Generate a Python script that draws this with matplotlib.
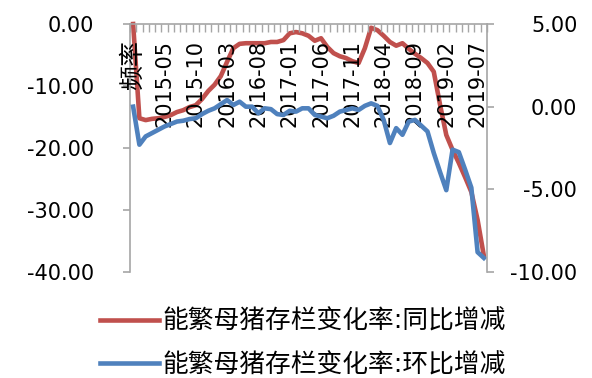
import matplotlib
matplotlib.use('Agg')
import matplotlib.pyplot as plt
from matplotlib.ticker import FixedLocator, FuncFormatter

plt.rcParams['font.family'] = ['DejaVu Sans', 'Noto Sans CJK SC']

# 类别：表头"频率"之后为2015-01至2019-08逐月
months = ['频率'] + ['%d-%02d' % (y, m) for y in range(2015, 2020) for m in range(1, 13)][:56]
tick_step = 5

# 能繁母猪存栏变化率（%）
yoy = [0, -15.2, -15.5, -15.3, -15.2, -15.0, -14.7, -14.2, -13.9, -13.4,
       -13.1, -12.1, -10.8, -9.8, -8.4, -6.1, -3.9, -3.2, -3.1, -3.1,
       -3.1, -3.1, -2.9, -2.9, -2.6, -1.5, -1.3, -1.5, -1.9, -2.7,
       -2.3, -3.7, -4.7, -5.2, -5.5, -6.0, -6.3, -3.9, -0.6, -1.0,
       -1.9, -2.9, -3.5, -3.1, -4.0, -4.8, -5.5, -6.3, -7.7, -13.0,
       -17.9, -20.3, -22.4, -24.7, -27.1, -31.6, -37.4]
mom = [0, -2.3, -1.8, -1.6, -1.4, -1.2, -1.05, -0.9, -0.85, -0.75,
       -0.7, -0.45, -0.25, -0.1, 0.15, 0.4, 0.1, 0.3, 0.0, 0.0,
       -0.4, -0.1, -0.15, -0.45, -0.5, -0.25, -0.3, -0.1, -0.1, -0.5,
       -0.6, -0.7, -0.55, -0.3, -0.2, -0.1, -0.2, 0.05, 0.2, 0.05,
       -0.8, -2.2, -1.3, -1.7, -0.9, -0.8, -1.15, -1.5, -2.8, -3.95,
       -5.05, -2.6, -2.75, -3.8, -4.9, -8.8, -9.15]

red = '#C0504D'
blue = '#4F81BD'
grey = '#A6A6A6'

fig = plt.figure(figsize=(5.92, 3.78), dpi=100)
ax = fig.add_axes([130/592, 1-272/378, 357/592, 248/378])
ax2 = ax.twinx()

x = list(range(len(months)))
l1, = ax.plot(x, yoy, color=red, lw=3.3, clip_on=False, solid_joinstyle='round',
              label='能繁母猪存栏变化率:同比增减')
l2, = ax2.plot(x, mom, color=blue, lw=3.3, clip_on=False, solid_joinstyle='round',
               label='能繁母猪存栏变化率:环比增减')

ax.set_xlim(-0.5, len(months)-0.5)
ax.set_ylim(-40, 0)
ax2.set_ylim(-10, 5)
ax.set_yticks([0, -10, -20, -30, -40])
ax2.set_yticks([5, 0, -5, -10])
fmt = FuncFormatter(lambda v, p: '%.2f' % v)
ax.yaxis.set_major_formatter(fmt)
ax2.yaxis.set_major_formatter(fmt)

for s in ['right', 'bottom']:
    ax.spines[s].set_visible(False)
for s in ['left', 'top', 'bottom']:
    ax2.spines[s].set_visible(False)
ax.spines['left'].set_color(grey)
ax.spines['top'].set_color(grey)
ax2.spines['right'].set_color(grey)
for s in ['left', 'top', 'right']:
    ax.spines[s].set_linewidth(1.2)
    ax2.spines[s].set_linewidth(1.2)

ax.tick_params(axis='y', direction='out', length=5, width=1.2, color=grey,
               labelsize=15, pad=21)
ax2.tick_params(axis='y', direction='out', length=5, width=1.2, color=grey,
                labelsize=15, pad=60)
for t in ax2.get_yticklabels():
    t.set_ha('right')

# 类别轴放在顶部（0值处），标签画在次坐标轴上以压住折线
ax.xaxis.set_visible(False)
ax2.xaxis.set_visible(True)
ax2.xaxis.tick_top()
ax2.set_xticks(x[::tick_step])
ax2.set_xticklabels(months[::tick_step], rotation=90)
ax2.xaxis.set_minor_locator(FixedLocator([i - 0.5 for i in range(len(months)+1)]))
ax2.tick_params(axis='x', which='major', length=0, labelsize=15, pad=-11.5)
ax2.tick_params(axis='x', which='minor', direction='in', length=6, width=1, color=grey)
for t in ax2.get_xticklabels():
    t.set_va('top')
ax2.get_xticklabels()[0].set_fontsize(18)

fig.legend(handles=[l1, l2], loc='upper left', bbox_to_anchor=(100/592, 1-309/378),
           frameon=False, fontsize=18.5, handlelength=2.3, handletextpad=0.15,
           borderpad=0, borderaxespad=0, labelspacing=0.68)

fig.savefig('out.png', dpi=100)
